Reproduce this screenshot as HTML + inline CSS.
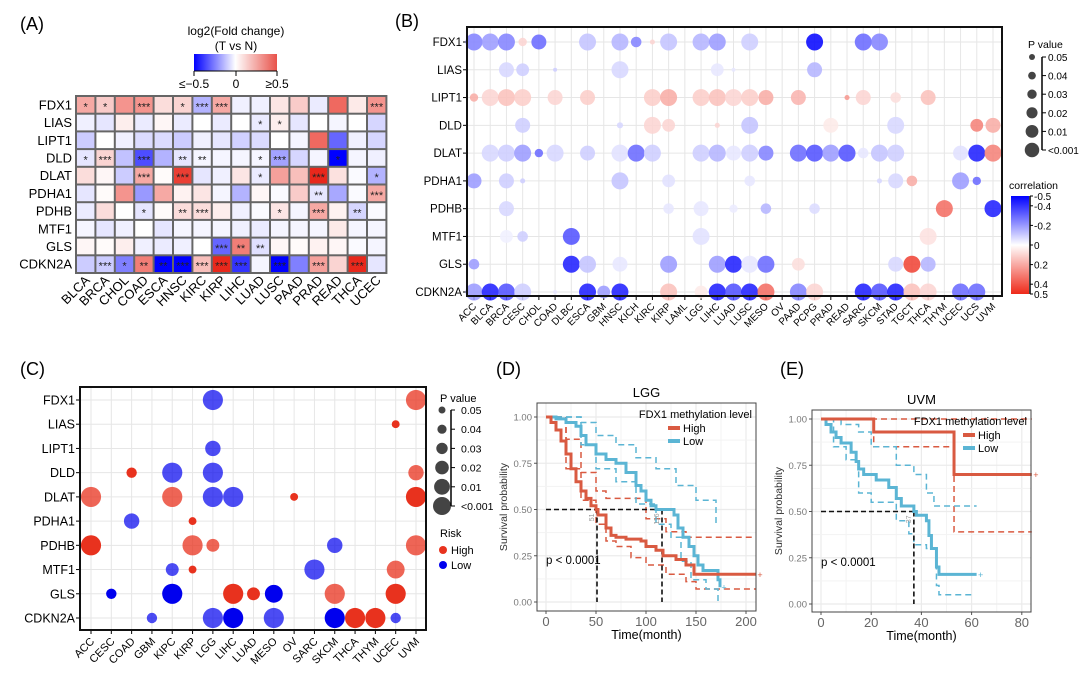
<!DOCTYPE html>
<html><head><meta charset="utf-8"><style>
html,body{margin:0;padding:0;background:#fff;}
svg{display:block;font-family:"Liberation Sans",Arial,sans-serif;}
</style></head><body>
<svg id="fig" width="1080" height="678" viewBox="0 0 1080 678" xmlns="http://www.w3.org/2000/svg">
<defs>
<linearGradient id="gA" x1="0" x2="1" y1="0" y2="0"><stop offset="0" stop-color="#0000ff"/><stop offset="0.5" stop-color="#ffffff"/><stop offset="1" stop-color="#e8524a"/></linearGradient>
<linearGradient id="gB" x1="0" x2="0" y1="0" y2="1"><stop offset="0" stop-color="#0000ff"/><stop offset="0.5" stop-color="#ffffff"/><stop offset="1" stop-color="#ee2a1a"/></linearGradient>
</defs>
<g id="pA"></g>
<g id="pB"></g>
<g id="pC"></g>
<g id="pD"></g>
<g id="pE"></g>
</svg>
<script>
// ===== Panel A data =====
const aGenes = ["FDX1","LIAS","LIPT1","DLD","DLAT","PDHA1","PDHB","MTF1","GLS","CDKN2A"];
const aCancers = ["BLCA","BRCA","CHOL","COAD","ESCA","HNSC","KIRC","KIRP","LIHC","LUAD","LUSC","PAAD","PRAD","READ","THCA","UCEC"];
const aFC = [
 [0.2,0.12,0.25,0.25,0.08,0.1,-0.15,0.2,-0.03,-0.03,0.06,0.12,-0.04,0.35,0.05,0.25],
 [-0.03,-0.05,0.04,-0.04,0.02,-0.04,0,-0.04,0,-0.04,0.04,-0.05,0,-0.02,0,-0.08],
 [-0.1,0,-0.03,-0.07,-0.07,-0.1,-0.03,-0.05,-0.09,-0.07,0,-0.02,0.35,-0.3,-0.03,-0.08],
 [-0.05,0.1,-0.12,-0.35,-0.15,-0.05,-0.02,-0.02,-0.02,-0.02,-0.18,-0.08,-0.02,-0.5,-0.02,-0.03],
 [0.08,0.02,-0.1,0.2,0.01,0.45,-0.05,-0.03,0.06,-0.04,0.22,0.15,0.5,0.07,-0.01,-0.15],
 [-0.05,0.01,0.25,-0.2,0.2,0.03,0.06,-0.02,-0.15,0.02,-0.01,0.12,-0.05,-0.17,-0.01,0.2],
 [-0.04,0.08,0,-0.05,0.01,0.08,0.08,0.04,-0.03,-0.01,0.06,-0.02,0.2,0.03,-0.08,-0.01],
 [-0.02,-0.05,-0.03,0,-0.05,-0.02,-0.02,-0.02,-0.03,-0.04,-0.02,-0.02,-0.02,0.05,-0.02,-0.02],
 [0.02,0.01,0.04,-0.03,-0.04,-0.03,0,-0.3,0.3,-0.06,0.02,0.01,0.03,0.02,-0.01,-0.02],
 [-0.1,-0.1,-0.25,0.3,-0.5,-0.5,0.15,0.5,-0.4,-0.02,-0.5,-0.25,0.22,0.1,0.5,-0.05]
];
const aStars = [
 ["*","*","","***","","*","***","***","","","","","","","","***"],
 ["","","","","","","","","","*","*","","","","",""],
 ["","","","","","","","","","","","","","","",""],
 ["*","***","","***","","**","**","","","*","***","","","*","",""],
 ["","","","***","","***","","","","*","","","***","","","*"],
 ["","","","","","","","","","","","","**","","","***"],
 ["","","","*","","**","***","","","","*","","***","","**",""],
 ["","","","","","","","","","","","","","","",""],
 ["","","","","","","","***","**","**","","","","","",""],
 ["","***","*","**","**","***","***","***","***","","***","","***","","***",""]
];
// ===== Panel B data =====
const bCancers = ["ACC","BLCA","BRCA","CESC","CHOL","COAD","DLBC","ESCA","GBM","HNSC","KICH","KIRC","KIRP","LAML","LGG","LIHC","LUAD","LUSC","MESO","OV","PAAD","PCPG","PRAD","READ","SARC","SKCM","STAD","TGCT","THCA","THYM","UCEC","UCS","UVM"];
const bGenes = aGenes;
// [gene, cancer, correlation, pvalue]
const bPoints = [
 ["FDX1","ACC",-0.25,0.001],["FDX1","BLCA",-0.2,0.001],["FDX1","BRCA",-0.25,0.001],["FDX1","CESC",0.1,0.04],["FDX1","CHOL",-0.3,0.01],["FDX1","ESCA",-0.12,0.001],["FDX1","HNSC",-0.15,0.001],["FDX1","KICH",-0.25,0.03],["FDX1","KIRC",0.1,0.055],["FDX1","KIRP",-0.12,0.001],["FDX1","LGG",-0.15,0.001],["FDX1","LIHC",-0.2,0.001],["FDX1","LUSC",-0.1,0.001],["FDX1","PCPG",-0.5,0.001],["FDX1","SARC",-0.3,0.001],["FDX1","SKCM",-0.25,0.001],
 ["LIAS","BRCA",-0.08,0.01],["LIAS","CESC",-0.1,0.02],["LIAS","COAD",-0.1,0.06],["LIAS","HNSC",-0.08,0.001],["LIAS","LIHC",-0.05,0.02],["LIAS","LUAD",-0.05,0.065],["LIAS","PCPG",-0.15,0.01],
 ["LIPT1","ACC",0.2,0.04],["LIPT1","BLCA",0.1,0.001],["LIPT1","BRCA",0.15,0.001],["LIPT1","CESC",0.12,0.001],["LIPT1","COAD",0.1,0.01],["LIPT1","ESCA",0.12,0.01],["LIPT1","KIRC",0.12,0.001],["LIPT1","KIRP",0.2,0.001],["LIPT1","LGG",0.12,0.001],["LIPT1","LIHC",0.15,0.001],["LIPT1","LUAD",0.1,0.001],["LIPT1","LUSC",0.12,0.001],["LIPT1","MESO",0.2,0.01],["LIPT1","PAAD",0.18,0.01],["LIPT1","READ",0.25,0.055],["LIPT1","SARC",0.1,0.01],["LIPT1","STAD",0.08,0.03],["LIPT1","THCA",0.15,0.01],
 ["DLD","CESC",-0.1,0.01],["DLD","HNSC",-0.08,0.05],["DLD","KIRC",0.1,0.001],["DLD","KIRP",0.1,0.02],["DLD","LIHC",0.1,0.055],["DLD","LUSC",-0.12,0.001],["DLD","PRAD",0.05,0.01],["DLD","STAD",-0.08,0.001],["DLD","UCS",0.3,0.02],["DLD","UVM",0.2,0.01],
 ["DLAT","BLCA",-0.08,0.001],["DLAT","BRCA",-0.1,0.001],["DLAT","CESC",-0.2,0.001],["DLAT","CHOL",-0.3,0.04],["DLAT","COAD",-0.08,0.001],["DLAT","ESCA",-0.1,0.01],["DLAT","HNSC",-0.06,0.001],["DLAT","KICH",-0.3,0.001],["DLAT","KIRC",-0.1,0.001],["DLAT","LGG",-0.1,0.001],["DLAT","LIHC",-0.15,0.001],["DLAT","LUAD",-0.05,0.01],["DLAT","LUSC",-0.1,0.001],["DLAT","MESO",-0.25,0.01],["DLAT","PAAD",-0.3,0.001],["DLAT","PCPG",-0.35,0.001],["DLAT","PRAD",-0.2,0.001],["DLAT","READ",-0.35,0.001],["DLAT","SARC",-0.05,0.03],["DLAT","SKCM",-0.12,0.001],["DLAT","STAD",-0.1,0.001],["DLAT","UCEC",-0.06,0.01],["DLAT","UCS",-0.45,0.001],["DLAT","UVM",0.3,0.001],
 ["PDHA1","ACC",-0.2,0.01],["PDHA1","BRCA",-0.1,0.01],["PDHA1","CESC",-0.1,0.055],["PDHA1","HNSC",-0.12,0.001],["PDHA1","KIRP",-0.06,0.02],["PDHA1","LUSC",-0.05,0.03],["PDHA1","SKCM",-0.08,0.055],["PDHA1","STAD",-0.08,0.01],["PDHA1","TGCT",0.2,0.03],["PDHA1","UCEC",-0.2,0.001],["PDHA1","UCS",-0.3,0.04],
 ["PDHB","BRCA",-0.08,0.01],["PDHB","KIRP",-0.05,0.03],["PDHB","LGG",-0.05,0.01],["PDHB","LUAD",-0.04,0.04],["PDHB","MESO",-0.15,0.03],["PDHB","PCPG",-0.07,0.03],["PDHB","THYM",0.35,0.001],["PDHB","UVM",-0.45,0.001],
 ["MTF1","BRCA",-0.03,0.02],["MTF1","CESC",-0.1,0.03],["MTF1","DLBC",-0.35,0.001],["MTF1","LGG",-0.06,0.001],["MTF1","THCA",0.07,0.001],
 ["GLS","ACC",-0.2,0.03],["GLS","DLBC",-0.45,0.001],["GLS","ESCA",-0.12,0.001],["GLS","HNSC",-0.05,0.01],["GLS","KIRP",-0.2,0.001],["GLS","LIHC",-0.2,0.001],["GLS","LUAD",-0.45,0.001],["GLS","LUSC",-0.05,0.001],["GLS","MESO",-0.3,0.001],["GLS","PAAD",0.08,0.02],["GLS","STAD",-0.08,0.01],["GLS","TGCT",0.45,0.001],["GLS","THCA",-0.15,0.01],
 ["CDKN2A","ACC",-0.2,0.001],["CDKN2A","BLCA",-0.45,0.001],["CDKN2A","BRCA",-0.35,0.001],["CDKN2A","CESC",-0.1,0.001],["CDKN2A","COAD",-0.05,0.06],["CDKN2A","ESCA",-0.45,0.001],["CDKN2A","GBM",-0.2,0.02],["CDKN2A","HNSC",-0.45,0.001],["CDKN2A","KIRP",0.15,0.001],["CDKN2A","LGG",0.05,0.02],["CDKN2A","LIHC",-0.45,0.001],["CDKN2A","LUAD",-0.35,0.001],["CDKN2A","LUSC",-0.45,0.001],["CDKN2A","MESO",0.35,0.001],["CDKN2A","PAAD",-0.25,0.001],["CDKN2A","PCPG",0.1,0.001],["CDKN2A","SARC",-0.45,0.001],["CDKN2A","SKCM",-0.35,0.001],["CDKN2A","STAD",-0.45,0.001],["CDKN2A","TGCT",0.15,0.001],["CDKN2A","THCA",0.1,0.001],["CDKN2A","UCEC",-0.3,0.001],["CDKN2A","UCS",-0.3,0.001]
];
const pLegendLabels = ["0.05","0.04","0.03","0.02","0.01","<0.001"];
const pLegendValues = [0.05,0.04,0.03,0.02,0.01,0.001];
const corrTicks = [-0.5,-0.4,-0.2,0,0.2,0.4,0.5];
const corrTickLabels = ["-0.5","-0.4","-0.2","0","0.2","0.4","0.5"];
// ===== Panel C data =====
const cCancers = ["ACC","CESC","COAD","GBM","KIPC","KIRP","LGG","LIHC","LUAD","MESO","OV","SARC","SKCM","THCA","THYM","UCEC","UVM"];
// [gene, cancer, risk, pvalue, intensity]
const cPoints = [
 ["FDX1","LGG","Low",0.001,0.7],["FDX1","UVM","High",0.001,0.75],
 ["LIAS","UCEC","High",0.05,1],
 ["LIPT1","LGG","Low",0.02,0.7],
 ["DLD","COAD","High",0.04,1],["DLD","KIPC","Low",0.001,0.7],["DLD","LGG","Low",0.001,0.7],["DLD","UVM","High",0.02,0.75],
 ["DLAT","ACC","High",0.001,0.75],["DLAT","KIPC","High",0.001,0.75],["DLAT","LGG","Low",0.001,0.7],["DLAT","LIHC","Low",0.001,0.7],["DLAT","OV","High",0.05,1],["DLAT","UVM","High",0.001,1],
 ["PDHA1","COAD","Low",0.02,0.7],["PDHA1","KIRP","High",0.05,1],
 ["PDHB","ACC","High",0.001,1],["PDHB","KIRP","High",0.001,0.75],["PDHB","LGG","High",0.03,0.75],["PDHB","SKCM","Low",0.02,0.7],["PDHB","UVM","High",0.001,0.75],
 ["MTF1","KIPC","Low",0.03,0.7],["MTF1","KIRP","High",0.05,1],["MTF1","SARC","Low",0.001,0.7],["MTF1","UCEC","High",0.01,0.75],
 ["GLS","CESC","Low",0.04,1],["GLS","KIPC","Low",0.001,1],["GLS","LIHC","High",0.001,1],["GLS","LUAD","High",0.03,1],["GLS","MESO","Low",0.01,1],["GLS","SKCM","High",0.001,0.75],["GLS","UCEC","High",0.001,1],
 ["CDKN2A","GBM","Low",0.04,0.7],["CDKN2A","LGG","Low",0.001,0.7],["CDKN2A","LIHC","Low",0.001,1],["CDKN2A","MESO","Low",0.001,0.7],["CDKN2A","SKCM","Low",0.001,1],["CDKN2A","THCA","High",0.001,1],["CDKN2A","THYM","High",0.001,1],["CDKN2A","UCEC","Low",0.04,0.7]
];
// ===== Panel D (LGG) survival =====
const dHighT = [0,5,10,15,20,25,30,35,40,45,50,52,60,65,70,80,95,100,110,117,130,140,148,210];
const dHighS = [1,0.97,0.93,0.87,0.8,0.72,0.65,0.6,0.56,0.52,0.5,0.47,0.4,0.36,0.35,0.34,0.33,0.3,0.28,0.25,0.23,0.2,0.15,0.15];
const dLowT = [0,10,20,30,35,40,50,60,70,80,90,95,100,105,110,128,132,137,143,148,152,157,172,174];
const dLowS = [1,0.99,0.97,0.95,0.9,0.85,0.8,0.77,0.75,0.7,0.63,0.6,0.55,0.52,0.5,0.47,0.4,0.35,0.3,0.25,0.2,0.17,0.12,0.08];
const dHighUpT = [0,20,35,50,60,100,120,140,210];
const dHighUpS = [1,0.88,0.7,0.6,0.56,0.45,0.38,0.35,0.35];
const dHighLoT = [0,20,35,50,60,70,85,100,120,140,150,210];
const dHighLoS = [1,0.72,0.55,0.42,0.33,0.3,0.24,0.2,0.15,0.11,0.07,0.07];
const dLowUpT = [0,35,50,70,90,110,130,150,170];
const dLowUpS = [1,0.97,0.9,0.85,0.78,0.72,0.63,0.55,0.42];
const dLowLoT = [0,35,50,70,90,110,125,135,145,160,172];
const dLowLoS = [1,0.85,0.72,0.65,0.53,0.42,0.35,0.22,0.12,0.07,0.0];
const dMedians = [51,116];
// ===== Panel E (UVM) survival =====
const eHighT = [0,20,21,52,53,84];
const eHighS = [1,1,0.93,0.93,0.7,0.7];
const eHighUpT = [0,84];
const eHighUpS = [1,1];
const eHighLoT = [0,20,21,52,53,84];
const eHighLoS = [1,1,0.85,0.85,0.39,0.39];
const eLowT = [0,2,4,6,8,12,14,15,17,22,27,30,32,37,38,42,43,44,46,47,62];
const eLowS = [1,0.97,0.93,0.9,0.87,0.82,0.77,0.73,0.7,0.67,0.63,0.57,0.53,0.5,0.48,0.45,0.37,0.3,0.2,0.16,0.16];
const eLowUpT = [0,8,15,20,30,37,42,45,62];
const eLowUpS = [1,0.97,0.93,0.85,0.75,0.7,0.6,0.53,0.53];
const eLowLoT = [0,5,10,15,20,30,35,37,42,46,47,61];
const eLowLoS = [1,0.85,0.78,0.6,0.55,0.45,0.38,0.32,0.3,0.1,0.05,0.05];
const eMedians = [37];
const survTicksY = [0,0.25,0.5,0.75,1];
const survTickLabelsY = ["0.00","0.25","0.50","0.75","1.00"];
const dTicksX = [0,50,100,150,200];
const eTicksX = [0,20,40,60,80];

// ===== helpers =====
const NS="http://www.w3.org/2000/svg";
function mk(parent,tag,attrs,text){const e=document.createElementNS(NS,tag);for(const k in attrs)e.setAttribute(k,attrs[k]);if(text!==undefined)e.textContent=text;parent.appendChild(e);return e;}
function lerp(a,b,t){return Math.round(a+(b-a)*t);}
function divColor(v,max,red){let t=Math.max(-1,Math.min(1,v/max));if(t<0){t=-t;return `rgb(${lerp(255,0,t)},${lerp(255,0,t)},255)`;}return `rgb(${lerp(255,red[0],t)},${lerp(255,red[1],t)},${lerp(255,red[2],t)})`;}
const fig=document.getElementById('fig');
function panelLabel(g,x,y,t,nm){const e=mk(g,'text',{x:x,y:y,'font-size':18});e.textContent=t;}

// ===== Panel A =====
(function(){
const g=document.getElementById('pA');
panelLabel(g,20,30,'(A)','panel-a-label');
const x0=76,y0=96,cw=19.4,ch=17.7;
let t=mk(g,'text',{x:236,y:35,'font-size':12,'text-anchor':'middle'},'log2(Fold change)');

t=mk(g,'text',{x:236,y:50,'font-size':12,'text-anchor':'middle'},'(T vs N)');

const cb=mk(g,'rect',{x:194,y:54,width:83,height:17,fill:'url(#gA)'});

[[194,'≤−0.5'],[236,'0'],[277,'≥0.5']].forEach(function(p){mk(g,'line',{x1:p[0],x2:p[0],y1:71,y2:76,stroke:'#000','stroke-width':1});
 const l=mk(g,'text',{x:p[0],y:88,'font-size':12,'text-anchor':'middle'},p[1]);});
mk(g,'line',{x1:194,x2:277,y1:71,y2:71,stroke:'#000','stroke-width':1});
mk(g,'rect',{x:x0-1,y:y0-1,width:aCancers.length*cw+2,height:aGenes.length*ch+2,fill:'#666'});
aGenes.forEach(function(gn,i){
 const l=mk(g,'text',{x:x0-4,y:y0+i*ch+ch/2+4.5,'font-size':13,'text-anchor':'end'},gn);
 
 aCancers.forEach(function(c,j){
  const r=mk(g,'rect',{x:x0+j*cw+1,y:y0+i*ch+1,width:cw-2,height:ch-2,fill:divColor(aFC[i][j],0.5,[232,40,28])});
  
  if(aStars[i][j]){const s=mk(g,'text',{x:x0+j*cw+cw/2,y:y0+i*ch+ch/2+5.5,'font-size':11,'text-anchor':'middle',fill:'#222'},aStars[i][j]);
   }
 });
});
aCancers.forEach(function(c,j){const cx=x0+j*cw+cw/2+5,cy=y0+aGenes.length*ch+8;
 const l=mk(g,'text',{x:cx,y:cy,'font-size':13,'text-anchor':'end',transform:`rotate(-45 ${cx} ${cy})`},c);
 });
})();

// ===== Panel B =====
(function(){
const g=document.getElementById('pB');
panelLabel(g,395,27,'(B)','panel-b-label');
const L=467,R=1002,T=27,Bt=296;
const xs=c=>474+bCancers.indexOf(c)*((993-474)/(bCancers.length-1));
const ys=gn=>42+bGenes.indexOf(gn)*((292-42)/(bGenes.length-1));
const rs=p=>Math.max(2,8.6-110*p);
bCancers.forEach(function(c){const x=xs(c);mk(g,'line',{x1:x,x2:x,y1:T,y2:Bt,stroke:'#e6e6e6','stroke-width':1});
 mk(g,'line',{x1:x,x2:x,y1:Bt,y2:Bt+4,stroke:'#000'});
 const l=mk(g,'text',{x:x+3,y:Bt+11,'font-size':10,'text-anchor':'end',transform:`rotate(-45 ${x+3} ${Bt+11})`},c);
 });
bGenes.forEach(function(gn){const y=ys(gn);mk(g,'line',{x1:L,x2:R,y1:y,y2:y,stroke:'#e6e6e6','stroke-width':1});
 mk(g,'line',{x1:L-4,x2:L,y1:y,y2:y,stroke:'#000'});
 const l=mk(g,'text',{x:L-5,y:y+4,'font-size':11.5,'text-anchor':'end'},gn);
 });
bPoints.forEach(function(p){const c=mk(g,'circle',{cx:xs(p[1]),cy:ys(p[0]),r:rs(p[3]),fill:divColor(p[2],0.5,[238,42,26]),'fill-opacity':0.85});
 });
mk(g,'rect',{x:L,y:T,width:R-L,height:Bt-T,fill:'none',stroke:'#111','stroke-width':2});
let t=mk(g,'text',{x:1028,y:48,'font-size':10.5},'P value');
pLegendValues.forEach(function(v,i){const y=57+i*18.6;const c=mk(g,'circle',{cx:1032,cy:y,r:3+i*0.85,fill:'#444'});
 
 mk(g,'line',{x1:1042,x2:1046,y1:y,y2:y,stroke:'#000'});
 const l=mk(g,'text',{x:1048,y:y+4,'font-size':10},pLegendLabels[i]);});
mk(g,'line',{x1:1042,x2:1042,y1:57,y2:150,stroke:'#000','stroke-width':1.5});
t=mk(g,'text',{x:1009,y:189,'font-size':10.5},'correlation');
const cb=mk(g,'rect',{x:1011,y:196,width:18,height:98,fill:'url(#gB)'});
mk(g,'line',{x1:1030,x2:1030,y1:196,y2:294,stroke:'#000','stroke-width':1.5});
corrTicks.forEach(function(v,i){const y=245+v*98;mk(g,'line',{x1:1030,x2:1033,y1:y,y2:y,stroke:'#000'});
 const l=mk(g,'text',{x:1034,y:y+4,'font-size':10},corrTickLabels[i]);});
})();

// ===== Panel C =====
(function(){
const g=document.getElementById('pC');
panelLabel(g,20,375,'(C)','panel-c-label');
const L=80,R=426,T=387,Bt=630;
const xs=c=>91+cCancers.indexOf(c)*((416-91)/(cCancers.length-1));
const ys=gn=>400+aGenes.indexOf(gn)*((618-400)/(aGenes.length-1));
const rs=p=>Math.max(3.5,10.2-125*p);
cCancers.forEach(function(c){const x=xs(c);mk(g,'line',{x1:x,x2:x,y1:T,y2:Bt,stroke:'#e6e6e6'});
 mk(g,'line',{x1:x,x2:x,y1:Bt,y2:Bt+4,stroke:'#000'});
 const l=mk(g,'text',{x:x+4,y:Bt+12,'font-size':11,'text-anchor':'end',transform:`rotate(-45 ${x+4} ${Bt+12})`},c);
 });
aGenes.forEach(function(gn){const y=ys(gn);mk(g,'line',{x1:L,x2:R,y1:y,y2:y,stroke:'#e6e6e6'});
 mk(g,'line',{x1:L-4,x2:L,y1:y,y2:y,stroke:'#000'});
 const l=mk(g,'text',{x:L-5,y:y+4.5,'font-size':12.5,'text-anchor':'end'},gn);
 });
cPoints.forEach(function(p){const col=p[2]==='High'?'#e8321e':'#0000ee';
 const c=mk(g,'circle',{cx:xs(p[1]),cy:ys(p[0]),r:rs(p[3]),fill:col,'fill-opacity':p[4]});
 });
mk(g,'rect',{x:L,y:T,width:R-L,height:Bt-T,fill:'none',stroke:'#111','stroke-width':2});
let t=mk(g,'text',{x:440,y:402,'font-size':11},'P value');
pLegendValues.forEach(function(v,i){const y=410+i*19.2;const c=mk(g,'circle',{cx:442,cy:y,r:3.5+i*1.1,fill:'#444'});
 
 mk(g,'line',{x1:451,x2:455,y1:y,y2:y,stroke:'#000'});
 const l=mk(g,'text',{x:461,y:y+4,'font-size':10.5},pLegendLabels[i]);});
mk(g,'line',{x1:451,x2:451,y1:410,y2:506,stroke:'#000','stroke-width':1.5});
t=mk(g,'text',{x:440,y:537,'font-size':11},'Risk');
[['High','#e8321e',550],['Low','#0000ee',565]].forEach(function(r){const c=mk(g,'circle',{cx:443,cy:r[2],r:4,fill:r[1]});
 const l=mk(g,'text',{x:451,y:r[2]+4,'font-size':11},r[0]);});
})();

// ===== Survival panels =====
function stepPath(T,S,xs,ys){let d=`M${xs(T[0])},${ys(S[0])}`;for(let i=1;i<T.length;i++){d+=` H${xs(T[i])} V${ys(S[i])}`;}return d;}
function survPanel(cfg){
 const g=document.getElementById(cfg.id);
 panelLabel(g,cfg.lx,375,cfg.letter,cfg.id+'-label');
 const xs=v=>cfg.x0+v*cfg.kx, ys=v=>cfg.y0-v*(cfg.y0-cfg.y1);
 mk(g,'rect',{x:cfg.L,y:cfg.T,width:cfg.R-cfg.L,height:cfg.B-cfg.T,fill:'#fff'});
 // grid
 for(let i=0;i<cfg.ticksX.length;i++){const x=xs(cfg.ticksX[i]);mk(g,'line',{x1:x,x2:x,y1:cfg.T,y2:cfg.B,stroke:'#ebebeb','stroke-width':1.2});
  if(i<cfg.ticksX.length-1){const xm=xs((cfg.ticksX[i]+cfg.ticksX[i+1])/2);mk(g,'line',{x1:xm,x2:xm,y1:cfg.T,y2:cfg.B,stroke:'#f3f3f3'});}
  mk(g,'line',{x1:x,x2:x,y1:cfg.B,y2:cfg.B+3,stroke:'#555'});
  const l=mk(g,'text',{x:x,y:cfg.B+15,'font-size':13,'text-anchor':'middle',fill:'#666'},String(cfg.ticksX[i]));}
 survTicksY.forEach(function(v,i){const y=ys(v);mk(g,'line',{x1:cfg.L,x2:cfg.R,y1:y,y2:y,stroke:'#ebebeb','stroke-width':1.2});
  if(i<4){const ym=ys(v+0.125);mk(g,'line',{x1:cfg.L,x2:cfg.R,y1:ym,y2:ym,stroke:'#f3f3f3'});}
  mk(g,'line',{x1:cfg.L-3,x2:cfg.L,y1:y,y2:y,stroke:'#555'});
  const l=mk(g,'text',{x:cfg.L-5,y:y+3.5,'font-size':9.5,'text-anchor':'end',fill:'#777'},survTickLabelsY[i]);});
 const red='#d95a41',blue='#5bb5d4';
 function line(T,S,col,w,dash,nm){const p=mk(g,'path',{d:stepPath(T,S,xs,ys),fill:'none',stroke:col,'stroke-width':w});if(dash)p.setAttribute('stroke-dasharray',dash);}
 line(cfg.hu[0],cfg.hu[1],red,1.5,'6,4','high-ci-upper');
 line(cfg.hl[0],cfg.hl[1],red,1.5,'6,4','high-ci-lower');
 line(cfg.lu[0],cfg.lu[1],blue,1.5,'6,4','low-ci-upper');
 line(cfg.ll[0],cfg.ll[1],blue,1.5,'6,4','low-ci-lower');
 // medians
 const mx=Math.max.apply(null,cfg.med);
 let m=mk(g,'line',{x1:xs(0),x2:xs(mx),y1:ys(0.5),y2:ys(0.5),stroke:'#111','stroke-width':1.6,'stroke-dasharray':'5,3'});
 cfg.med.forEach(function(v){const l=mk(g,'line',{x1:xs(v),x2:xs(v),y1:ys(0.5),y2:ys(0),stroke:'#111','stroke-width':1.6,'stroke-dasharray':'5,3'});
  const tx=mk(g,'text',{x:xs(v)-3,y:ys(0.5)+4,'font-size':7,fill:'#999','text-anchor':'end',transform:`rotate(-90 ${xs(v)-3} ${ys(0.5)+4})`},String(v));});
 line(cfg.lo[0],cfg.lo[1],blue,3,null,'low-survival-curve');
 line(cfg.hi[0],cfg.hi[1],red,3,null,'high-survival-curve');
 [[cfg.hi,red],[cfg.lo,blue]].forEach(function(a){const T=a[0][0],S=a[0][1];const x=xs(T[T.length-1])+4,y=ys(S[S.length-1]);mk(g,'text',{x:x,y:y+3.5,'font-size':9,fill:a[1],'text-anchor':'middle'},'+');});
 mk(g,'rect',{x:cfg.L,y:cfg.T,width:cfg.R-cfg.L,height:cfg.B-cfg.T,fill:'none',stroke:'#444','stroke-width':1});
 let t=mk(g,'text',{x:(cfg.L+cfg.R)/2,y:cfg.T-6,'font-size':13,'text-anchor':'middle'},cfg.title);
 t=mk(g,'text',{x:(cfg.L+cfg.R)/2,y:cfg.B+28,'font-size':12.5,'text-anchor':'middle'},'Time(month)');
 const ax=cfg.L-30,ay=(cfg.T+cfg.B)/2;
 t=mk(g,'text',{x:ax,y:ay,'font-size':10.5,'text-anchor':'middle',fill:'#333',transform:`rotate(-90 ${ax} ${ay})`},'Survival probability');
 t=mk(g,'text',{x:cfg.L+9,y:ys(0.25)+8,'font-size':11.5},'p < 0.0001');
 t=mk(g,'text',{x:cfg.R-4,y:cfg.T+15,'font-size':11,'text-anchor':'end'},'FDX1 methylation level');
 [['High',red,cfg.T+28],['Low',blue,cfg.T+41]].forEach(function(r){const lx=cfg.legX;mk(g,'line',{x1:lx,x2:lx+12,y1:r[2]-3,y2:r[2]-3,stroke:r[1],'stroke-width':4});
  const l=mk(g,'text',{x:lx+15,y:r[2]+1,'font-size':11},r[0]);});
}
survPanel({id:'pD',letter:'(D)',lx:496,title:'LGG',L:537,R:756,T:403,B:611,x0:546,kx:1.0,y0:602,y1:417,ticksX:dTicksX,
 hi:[dHighT,dHighS],lo:[dLowT,dLowS],hu:[dHighUpT,dHighUpS],hl:[dHighLoT,dHighLoS],lu:[dLowUpT,dLowUpS],ll:[dLowLoT,dLowLoS],med:dMedians,legX:668});
survPanel({id:'pE',letter:'(E)',lx:780,title:'UVM',L:812,R:1031,T:410,B:612,x0:821,kx:2.51,y0:604,y1:419,ticksX:eTicksX,
 hi:[eHighT,eHighS],lo:[eLowT,eLowS],hu:[eHighUpT,eHighUpS],hl:[eHighLoT,eHighLoS],lu:[eLowUpT,eLowUpS],ll:[eLowLoT,eLowLoS],med:eMedians,legX:963});
</script>
</body></html>
